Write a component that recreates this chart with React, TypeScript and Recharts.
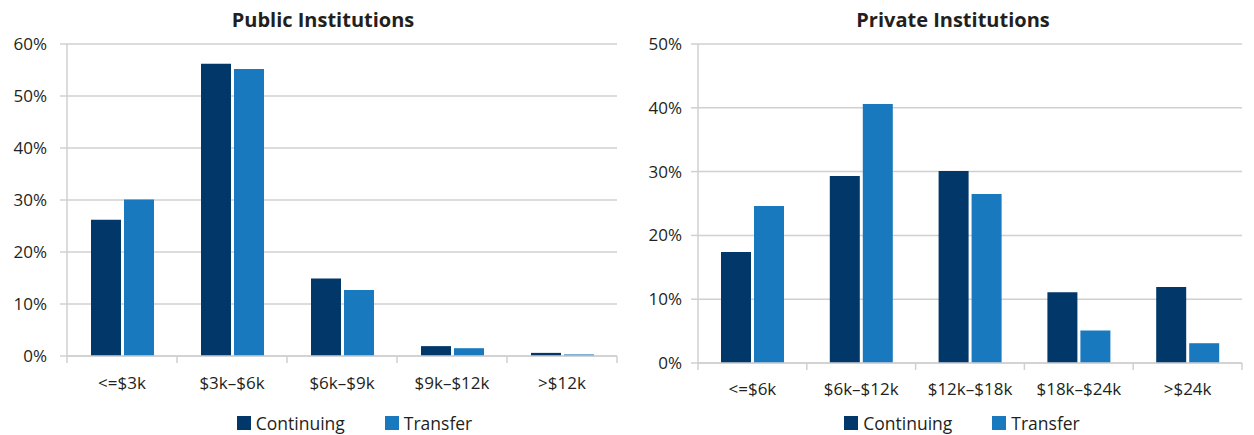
import { BarChart, Bar, XAxis, YAxis, CartesianGrid, Legend } from "recharts";

const publicCategories = ["<=$3k", "$3k–$6k", "$6k–$9k", "$9k–$12k", ">$12k"];
const publicContinuing = [26.2, 56.2, 14.9, 1.9, 0.6];
const publicTransfer = [30.1, 55.2, 12.7, 1.5, 0.3];
const publicTicks = [0, 10, 20, 30, 40, 50, 60];

const privateCategories = ["<=$6k", "$6k–$12k", "$12k–$18k", "$18k–$24k", ">$24k"];
const privateContinuing = [17.4, 29.3, 30.1, 11.1, 11.9];
const privateTransfer = [24.6, 40.6, 26.5, 5.1, 3.1];
const privateTicks = [0, 10, 20, 30, 40, 50];

const seriesNames = ["Continuing", "Transfer"];
const colors = ["#02376a", "#1879bf"];

const font = "'Open Sans', 'Noto Sans', sans-serif";
const gridColor = "#d0d0d0";
const textColor = "#231f20";

const publicData = publicCategories.map((name, i) => ({
  name,
  Continuing: publicContinuing[i],
  Transfer: publicTransfer[i],
}));

const privateData = privateCategories.map((name, i) => ({
  name,
  Continuing: privateContinuing[i],
  Transfer: privateTransfer[i],
}));

function makeTick(band: number, count: number, labelOffset: number) {
  return function Tick(props: any) {
    const { x, y, payload, index } = props;
    const left = x - band / 2;
    return (
      <g>
        <line x1={left} x2={left} y1={y} y2={y + 7} stroke={gridColor} strokeWidth={1.5} />
        {index === count - 1 && (
          <line x1={x + band / 2} x2={x + band / 2} y1={y} y2={y + 7} stroke={gridColor} strokeWidth={1.5} />
        )}
        <text
          x={x}
          y={y + labelOffset}
          textAnchor="middle"
          dominantBaseline="central"
          fill={textColor}
          fontSize={17}
          fontFamily={font}
        >
          {payload.value}
        </text>
      </g>
    );
  };
}

function makeLegend(shift: number) {
  return function LegendContent() {
    return (
      <div
        style={{
          display: "flex",
          justifyContent: "center",
          transform: `translateX(${shift}px)`,
          fontFamily: font,
          fontSize: 17.5,
          color: textColor,
          height: 24,
          alignItems: "center",
        }}
      >
        {seriesNames.map((name, i) => (
          <div key={name} style={{ display: "flex", alignItems: "center", marginRight: i === 0 ? 40 : 0 }}>
            <span style={{ width: 14, height: 14, background: colors[i], marginRight: 5, display: "inline-block" }} />
            <span>{name}</span>
          </div>
        ))}
      </div>
    );
  };
}

function Panel(props: {
  title: string;
  data: any[];
  ticks: number[];
  width: number;
  left: number;
  yWidth: number;
  right: number;
  xHeight: number;
  labelOffset: number;
  tickMargin: number;
  titleCenter: number;
  legendShift: number;
}) {
  const plotWidth = props.width - props.yWidth - props.right;
  const band = plotWidth / props.data.length;
  return (
    <div style={{ position: "absolute", left: props.left, top: 0, width: props.width, height: 435 }}>
      <div
        style={{
          position: "absolute",
          left: props.titleCenter - 200,
          width: 400,
          top: 6,
          textAlign: "center",
          fontFamily: font,
          fontWeight: 700,
          fontSize: 20,
          color: textColor,
        }}
      >
        {props.title}
      </div>
      <BarChart
        width={props.width}
        height={435}
        data={props.data}
        margin={{ top: 44, right: props.right, left: 0, bottom: 0 }}
        barSize={30}
        barGap={3}
      >
        <CartesianGrid vertical={false} stroke={gridColor} strokeWidth={1.5} />
        <XAxis
          dataKey="name"
          height={props.xHeight}
          axisLine={{ stroke: gridColor, strokeWidth: 1.5 }}
          tickLine={false}
          tickSize={0}
          tickMargin={0}
          interval={0}
          tick={makeTick(band, props.data.length, props.labelOffset)}
        />
        <YAxis
          width={props.yWidth}
          domain={[0, props.ticks[props.ticks.length - 1]]}
          ticks={props.ticks}
          tickFormatter={(v: number) => `${v}%`}
          axisLine={{ stroke: gridColor, strokeWidth: 1.5 }}
          tickLine={{ stroke: gridColor, strokeWidth: 1.5 }}
          tickSize={7}
          tickMargin={props.tickMargin}
          tick={{ fill: textColor, fontSize: 17, fontFamily: font }}
        />
        <Legend verticalAlign="bottom" content={makeLegend(props.legendShift)} />
        {seriesNames.map((name, i) => (
          <Bar key={name} dataKey={name} fill={colors[i]} isAnimationActive={false} />
        ))}
      </BarChart>
    </div>
  );
}

export default function App() {
  return (
    <div style={{ position: "absolute", left: 0, top: 0, width: 1254, height: 435, background: "#fff" }}>
      <Panel
        title="Public Institutions"
        data={publicData}
        ticks={publicTicks}
        width={620}
        left={0}
        yWidth={67}
        right={3}
        xHeight={55}
        labelOffset={26}
        tickMargin={13}
        titleCenter={323}
        legendShift={46}
      />
      <Panel
        title="Private Institutions"
        data={privateData}
        ticks={privateTicks}
        width={634}
        left={620}
        yWidth={78}
        right={12}
        xHeight={48}
        labelOffset={25}
        tickMargin={9}
        titleCenter={333}
        legendShift={31}
      />
    </div>
  );
}
